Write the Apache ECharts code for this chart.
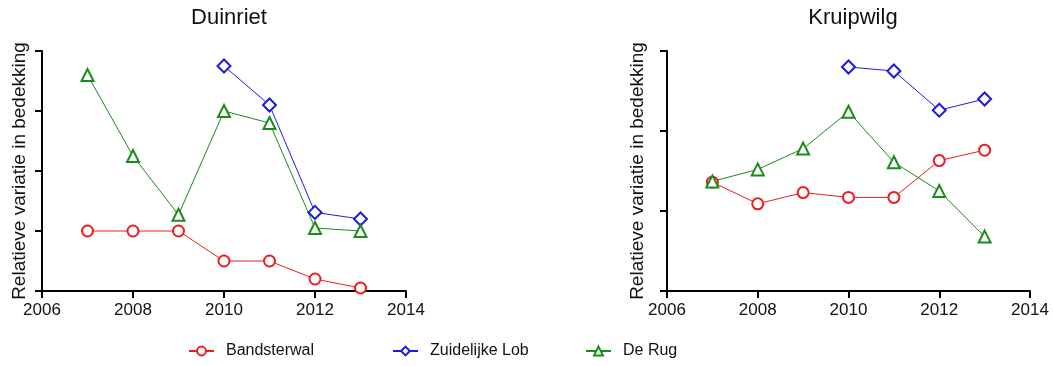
<!DOCTYPE html>
<html>
<head>
<meta charset="utf-8">
<script src="https://cdn.jsdelivr.net/npm/echarts@6/dist/echarts.min.js"></script>
<style>html,body{margin:0;padding:0;background:#fff;}#c{width:1053px;height:366px;}</style>
</head>
<body>
<div id="c"></div>
<script>
var years = [2007, 2008, 2009, 2010, 2011, 2012, 2013];
var panelTitles = ["Duinriet", "Kruipwilg"];
var seriesNames = ["Bandsterwal", "Zuidelijke Lob", "De Rug"];
var xTicks = [2006, 2008, 2010, 2012, 2014];
var yLabel = "Relatieve variatie in bedekking";

// Duinriet (left panel)
var duinBandsterwal = [1.0, 1.0, 1.0, 0.5, 0.5, 0.2, 0.05];
var duinZuidelijkeLob = [null, null, null, 3.75, 3.1, 1.31, 1.2];
var duinDeRug = [3.6, 2.25, 1.27, 3.0, 2.8, 1.05, 1.0];

// Kruipwilg (right panel)
var kruipBandsterwal = [1.36, 1.09, 1.23, 1.17, 1.17, 1.63, 1.76];
var kruipZuidelijkeLob = [null, null, null, 2.8, 2.75, 2.26, 2.4];
var kruipDeRug = [1.37, 1.52, 1.78, 2.24, 1.61, 1.25, 0.68];

var colors = ["#ee1c1c", "#1c1cdc", "#1a8c1a"];
var symbols = ["emptyCircle", "emptyDiamond", "emptyTriangle"];
var symbolSizes = [11, 13, 12];

function pairs(vals) {
  var out = [];
  for (var i = 0; i < years.length; i++) if (vals[i] !== null) out.push([years[i], vals[i]]);
  return out;
}

var chart = echarts.init(document.getElementById('c'));
var font = "Liberation Sans, Arial, Helvetica, sans-serif";

function xAxis(gi) {
  return {
    type: 'value', gridIndex: gi, min: xTicks[0], max: xTicks[xTicks.length - 1], interval: 2,
    axisLine: { lineStyle: { color: '#000', width: 2 } },
    axisTick: { length: 7, lineStyle: { color: '#000', width: 2 } },
    axisLabel: { color: '#111', fontSize: 17, fontFamily: font, margin: 11, formatter: function (v) { return String(v); } },
    splitLine: { show: false }
  };
}
function yAxis(gi, max, gap) {
  return {
    type: 'value', gridIndex: gi, min: 0, max: max, interval: 1,
    name: yLabel, nameLocation: 'middle', nameGap: gap, nameRotate: 90,
    nameTextStyle: { color: '#111', fontSize: 19, fontFamily: font },
    axisLine: { show: true, lineStyle: { color: '#000', width: 2 } },
    axisTick: { show: true, length: 7, lineStyle: { color: '#000', width: 2 } },
    axisLabel: { show: false },
    splitLine: { show: false }
  };
}

var data = [
  [duinBandsterwal, duinZuidelijkeLob, duinDeRug],
  [kruipBandsterwal, kruipZuidelijkeLob, kruipDeRug]
];
var series = [];
for (var p = 0; p < 2; p++) {
  for (var s = 0; s < 3; s++) {
    series.push({
      type: 'line', name: seriesNames[s], xAxisIndex: p, yAxisIndex: p,
      data: pairs(data[p][s]),
      symbol: symbols[s], symbolSize: symbolSizes[s],
      itemStyle: { color: colors[s], borderWidth: 0.8 },
      lineStyle: { color: colors[s], width: 1 },
      animation: false
    });
  }
}

var legendLefts = [188, 392, 585];
var legends = seriesNames.map(function (n, i) {
  return {
    data: [n], left: legendLefts[i], top: 343, itemWidth: 25, itemHeight: 11, padding: 0,
    itemStyle: { borderWidth: 0.8 },
    textStyle: { color: '#111', fontSize: 16, fontFamily: font, padding: [0, 0, 0, 7] }
  };
});

chart.setOption({
  backgroundColor: '#fff',
  animation: false,
  title: [
    { text: panelTitles[0], left: 224, top: 2, textAlign: 'center', textStyle: { color: '#111', fontSize: 22, fontWeight: 'normal', fontFamily: font } },
    { text: panelTitles[1], left: 848, top: 2, textAlign: 'center', textStyle: { color: '#111', fontSize: 22, fontWeight: 'normal', fontFamily: font } }
  ],
  legend: legends,
  grid: [
    { left: 42, top: 51, width: 364, height: 240 },
    { left: 667, top: 51, width: 363, height: 240 }
  ],
  xAxis: [xAxis(0), xAxis(1)],
  yAxis: [yAxis(0, 4, 13), yAxis(1, 3, 20)],
  series: series
});
</script>
</body>
</html>
